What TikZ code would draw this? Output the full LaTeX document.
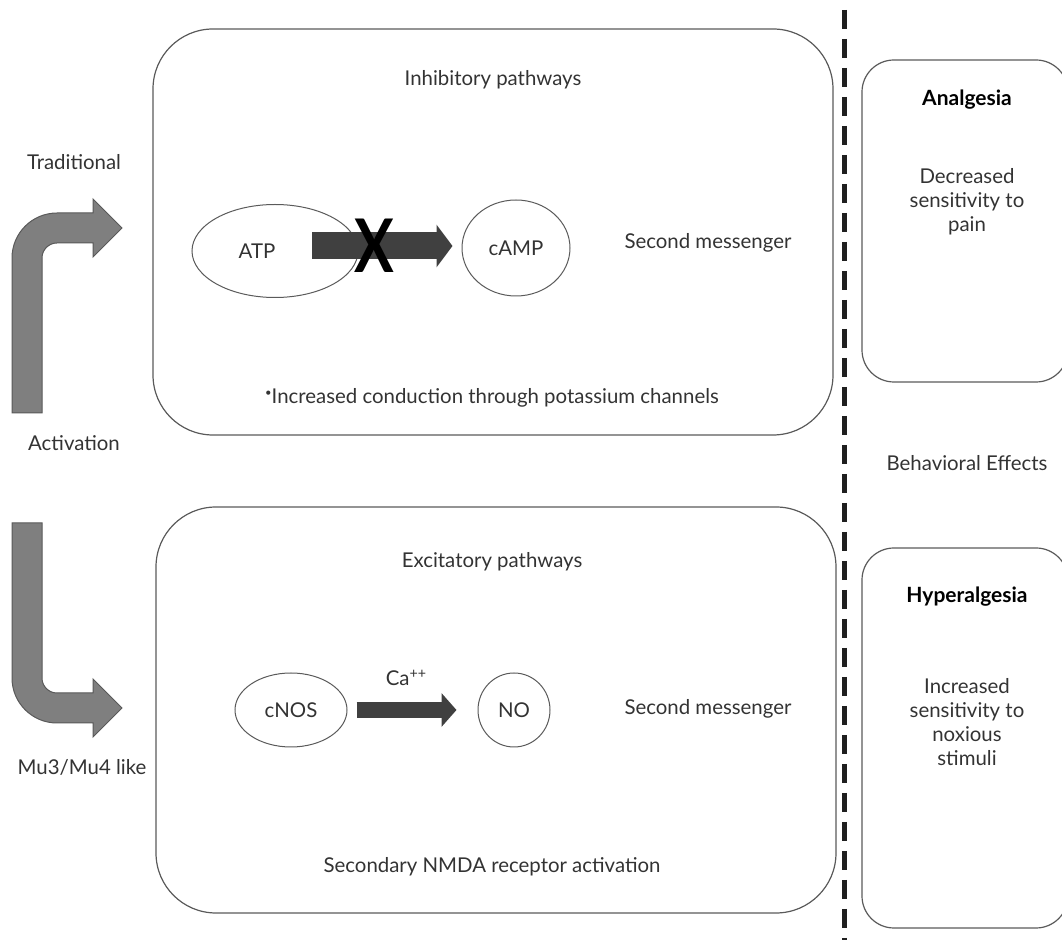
\documentclass[tikz,border=0pt]{standalone}
\usepackage{fontspec}
\setmainfont{Lato}
\usetikzlibrary{shapes.geometric,arrows.meta}

\definecolor{txtgray}{HTML}{333333}
\definecolor{boxline}{HTML}{5A5A5A}
\definecolor{bendfill}{HTML}{7F7F7F}
\definecolor{blockfill}{HTML}{404040}

\tikzset{
  lbl/.style={text=txtgray,font=\fontsize{10.2}{12}\selectfont,inner sep=0pt},
  mol/.style={ellipse,draw=boxline,line width=0.5pt,lbl},
  panel/.style={draw=boxline,line width=0.6pt,rounded corners=30pt},
  sidepanel/.style={draw=boxline,line width=0.6pt,rounded corners=16pt},
  bentarrow/.style={fill=bendfill,draw=black!65,line width=0.5pt},
  blockarrow/.style={draw=blockfill},
  divider/.style={line width=2.5pt,draw=black!88,dash pattern=on 9.5pt off 5pt}
}

\begin{document}
\begin{tikzpicture}[x=0.5pt,y=-0.5pt]
  \useasboundingbox (0,0) rectangle (1062,940);

  % panels
  \draw[panel] (153,29) rectangle (833,435);
  \draw[panel] (156,507) rectangle (836,913);
  \draw[sidepanel] (862,60) rectangle (1068,382);
  \draw[sidepanel] (862,548) rectangle (1068,928);
  \draw[divider] (844,10) -- (844,940);

  % bent arrows on the left
  \draw[bentarrow] (12,413) -- (12,258) .. controls (12,233.15) and (32.15,213) .. (57,213)
    -- (93,213) -- (93,199) -- (122,228) -- (93,257) -- (93,243) -- (57,243)
    .. controls (48.72,243) and (42,249.72) .. (42,258) -- (42,413) -- cycle;
  \draw[bentarrow] (12,523) -- (12,678) .. controls (12,702.85) and (32.15,723) .. (57,723)
    -- (93,723) -- (93,737) -- (122,708) -- (93,679) -- (93,693) -- (57,693)
    .. controls (48.72,693) and (42,686.28) .. (42,678) -- (42,523) -- cycle;
  \node[lbl] (trad) at (74,162) {Traditional};
  \node[lbl] (act) at (74,443) {Activation};
  \node[lbl] (mu) at (82,767) {Mu3/Mu4 like};

  % inhibitory pathways
  \node[lbl] (inhib) at (493,80) {Inhibitory pathways};
  \node[mol,minimum width=83pt,minimum height=46.5pt] (atp) at (275,251) {\hspace*{-18pt}ATP};
  \node[mol,minimum width=54pt,minimum height=48pt] (camp) at (516,248) {cAMP};
  \node[lbl] (sm1) at (708,243) {Second messenger};
  \node[lbl] (kchan) at (492,398) {\raisebox{3.5pt}{\scalebox{0.55}{\textbullet}}Increased conduction through potassium channels};
  \coordinate (atpout) at (312,246);
  \draw[blockarrow,line width=13.5pt,-{Triangle[length=8pt,width=21pt]},shorten >=4.5pt]
    (atpout) -- (atpout -| camp.west)
    node[pos=0.42,text=black,font=\fontsize{37}{37}\selectfont\bfseries,xscale=0.8,inner sep=0pt] (block) {X};

  % excitatory pathways
  \node[lbl] (excit) at (492,562) {Excitatory pathways};
  \node[mol,minimum width=56pt,minimum height=37pt] (cnos) at (291,710) {cNOS};
  \node[mol,minimum width=36pt,minimum height=37pt] (no) at (514,710) {NO};
  \node[lbl] (sm2) at (708,709) {Second messenger};
  \node[lbl] (nmda) at (492,867) {Secondary NMDA receptor activation};
  \draw[blockarrow,line width=8pt,-{Triangle[length=7.5pt,width=16.5pt]}]
    ([xshift=4.5pt]cnos.east) -- ([xshift=-10.5pt]no.west)
    node[midway,above=8pt,lbl] (ca) {Ca\textsuperscript{++}};

  % behavioral effects
  \node[lbl] (behav) at (967,463) {Behavioral Effects};
  \node[lbl,font=\fontsize{10.5}{12}\selectfont\bfseries,text=black] (analg) at (967,100) {Analgesia};
  \node[lbl,align=center] (dec) at (967,202) {Decreased\\sensitivity to\\pain};
  \node[lbl,font=\fontsize{10.5}{12}\selectfont\bfseries,text=black] (hyper) at (967,597) {Hyperalgesia};
  \node[lbl,align=center] (inc) at (967,722) {Increased\\sensitivity to\\noxious\\stimuli};
\end{tikzpicture}
\end{document}
